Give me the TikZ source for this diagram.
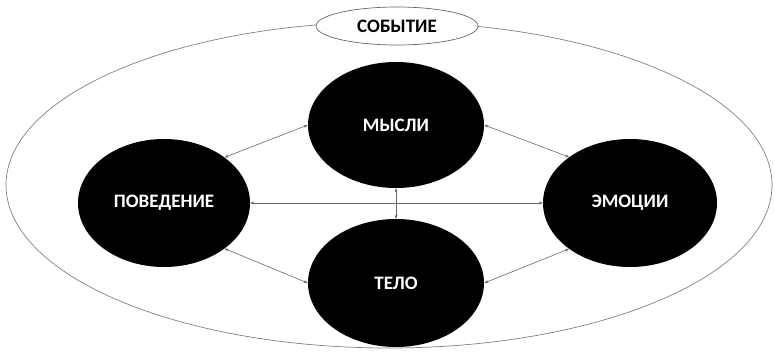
\documentclass[tikz,border=0pt]{standalone}
\usepackage{fontspec}
\setmainfont{Carlito}
\usetikzlibrary{shapes.geometric,arrows.meta}
\begin{document}
\begin{tikzpicture}[x=1pt,y=1pt,font=\bfseries\fontsize{19}{22}\selectfont]
  \tikzstyle{state}=[ellipse,fill=black,text=white,minimum width=176pt,minimum height=126pt,inner sep=0pt]
  \tikzstyle{link}=[{Stealth[length=4pt,width=3pt]}-{Stealth[length=4pt,width=3pt]},draw=gray!80!black,line width=0.6pt]
  \useasboundingbox (0,0) rectangle (775,351);
  \node(frame)[ellipse,draw=gray,line width=0.7pt,minimum width=766pt,minimum height=326pt] at (389,166){};
  \node(event)[ellipse,draw=gray!80!black,fill=white,line width=0.7pt,minimum width=162pt,minimum height=38pt,inner sep=0pt] at (397,325){СОБЫТИЕ};
  \node(mind)[state] at (396,226){МЫСЛИ};
  \node(beh)[state,minimum width=172pt,minimum height=128pt] at (164,148){ПОВЕДЕНИЕ};
  \node(emo)[state,minimum width=174pt,minimum height=128pt] at (630,148){ЭМОЦИИ};
  \node(body)[state,minimum height=128pt] at (396,68){ТЕЛО};
  \draw[link] (beh.37) -- (mind.west);
  \draw[link] (mind.east) -- (emo.143);
  \draw[link] (beh.east) -- (emo.west);
  \draw[link] (mind.south) -- (body.north);
  \draw[link] (beh.-37) -- (body.west);
  \draw[link] (body.east) -- (emo.-143);
\end{tikzpicture}
\end{document}
